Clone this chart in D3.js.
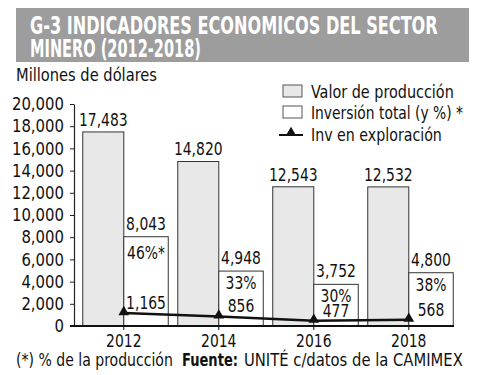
<!DOCTYPE html>
<html><head><meta charset="utf-8">
<script src="https://cdn.jsdelivr.net/npm/d3@7"></script>
<style>body{margin:0;background:#fff}svg{display:block}text{font-family:"DejaVu Sans Condensed","DejaVu Sans",sans-serif;fill:#111}</style>
</head><body><svg id="c" width="500" height="375"></svg>
<script>
const years = ["2012","2014","2016","2018"];
const produccion = [17483, 14820, 12543, 12532];
const inversion = [8043, 4948, 3752, 4800];
const porcentaje = ["46%*", "33%", "30%", "38%"];
const exploracion = [1165, 856, 477, 568];
const yTicks = [0,2000,4000,6000,8000,10000,12000,14000,16000,18000,20000];

const svg = d3.select("#c");
const fmt = d3.format(",");
const SX = 0.86;

// scale a text horizontally around its anchor x
function squeeze(sel, s){
  sel.each(function(){
    const t = d3.select(this);
    const x = +t.attr("x") || 0, y = +t.attr("y") || 0;
    t.attr("transform", `translate(${x},${y}) scale(${s},1) translate(${-x},${-y})`);
  });
}
function fit(sel, w){
  sel.each(function(){
    const cur = this.getComputedTextLength();
    squeeze(d3.select(this), w/cur);
  });
}
function txt(parent, x, y, str, size, anchor){
  return parent.append("text").attr("x",x).attr("y",y).attr("text-anchor",anchor||"start")
    .style("font-size",size+"px").text(str);
}

// title
svg.append("rect").attr("x",16).attr("y",8).attr("width",453).attr("height",54).attr("fill","#9d9d9d");
const t1 = txt(svg,30,34,"G-3 INDICADORES ECONOMICOS DEL SECTOR",25).style("font-weight","bold").style("fill","#fff");
const t2 = txt(svg,30,57,"MINERO (2012-2018)",25).style("font-weight","bold").style("fill","#fff");
fit(t1,408); fit(t2,171);
fit(txt(svg,16,81,"Millones de dólares",18),141);

const y = d3.scaleLinear().domain([0,20000]).range([326,104]);
const x = d3.scaleBand().domain(years).range([78,458]).paddingInner(0.1).paddingOuter(0.05);
const pw = x.bandwidth()*0.48;

// y axis
const ya = svg.append("g").attr("transform","translate(74,0)")
  .call(d3.axisLeft(y).tickValues(yTicks).tickFormat(fmt).tickSize(4).tickSizeOuter(0).tickPadding(6));
ya.select(".domain").attr("stroke","#222").attr("stroke-width",1.2);
ya.selectAll(".tick line").attr("stroke","#222");
ya.selectAll("text").style("font-size","18px").style("fill","#111")
  .style("font-family",'"DejaVu Sans Condensed","DejaVu Sans",sans-serif');
squeeze(ya.selectAll("text"),0.92);

const g = svg.append("g");
years.forEach((yr,i)=>{
  const x0 = x(yr);
  g.append("rect").attr("x",x0).attr("y",y(produccion[i])).attr("width",pw).attr("height",y(0)-y(produccion[i]))
    .attr("fill","#e8e8e8").attr("stroke","#333").attr("stroke-width",1);
  g.append("rect").attr("x",x0+pw).attr("y",y(inversion[i])).attr("width",x.bandwidth()-pw).attr("height",y(0)-y(inversion[i]))
    .attr("fill","#fff").attr("stroke","#333").attr("stroke-width",1);
  const cp = x0+pw/2, ci = x0+pw+(x.bandwidth()-pw)/2;
  squeeze(txt(g,cp,y(produccion[i])-6,fmt(produccion[i]),18,"middle"),SX);
  squeeze(txt(g,ci,y(inversion[i])-7,fmt(inversion[i]),18,"middle"),SX);
  squeeze(txt(g,ci,y(inversion[i])+(i===0?22:18),porcentaje[i],18,"middle"),SX);
  squeeze(txt(g,ci,y(exploracion[i])-4,fmt(exploracion[i]),18,"middle"),SX);
});

// x axis
const xa = svg.append("g").attr("transform","translate(0,326)");
xa.append("line").attr("x1",70).attr("x2",454).attr("y1",0).attr("y2",0).attr("stroke","#111").attr("stroke-width",2);
years.forEach((yr)=>{
  const bx = x(yr)+pw;
  xa.append("line").attr("x1",bx).attr("x2",bx).attr("y1",0).attr("y2",4).attr("stroke","#111");
  squeeze(txt(xa,bx,21,yr,18,"middle"),SX);
});

// exploration line
const pts = years.map((yr,i)=>[x(yr)+pw, y(exploracion[i])]);
svg.append("path").attr("d",d3.line()(pts)).attr("fill","none").attr("stroke","#111").attr("stroke-width",2.5);
const tri = d3.symbol().type(d3.symbolTriangle).size(50);
svg.selectAll(".tri").data(pts).join("path").attr("transform",d=>`translate(${d[0]},${d[1]-1})`).attr("d",tri).attr("fill","#111");

// legend
const lg = svg.append("g");
lg.append("rect").attr("x",283).attr("y",85).attr("width",19).attr("height",12).attr("fill","#e8e8e8").attr("stroke","#555");
fit(txt(lg,311,98,"Valor de producción",18),143);
lg.append("rect").attr("x",283).attr("y",106).attr("width",19).attr("height",12).attr("fill","#fff").attr("stroke","#555");
fit(txt(lg,311,119,"Inversión total (y %) *",18),152);
lg.append("line").attr("x1",279).attr("x2",303).attr("y1",135).attr("y2",135).attr("stroke","#111").attr("stroke-width",2);
lg.append("path").attr("transform","translate(291,133)").attr("d",tri).attr("fill","#111");
fit(txt(lg,311,141,"Inv en exploración",18),131);

// footnote
fit(txt(svg,16,366,"(*) % de la producción",18),157);
fit(txt(svg,182,366,"Fuente:",18).style("font-weight","bold"),56);
fit(txt(svg,244,366,"UNITÉ c/datos de la CAMIMEX",18),219);
</script></body></html>
